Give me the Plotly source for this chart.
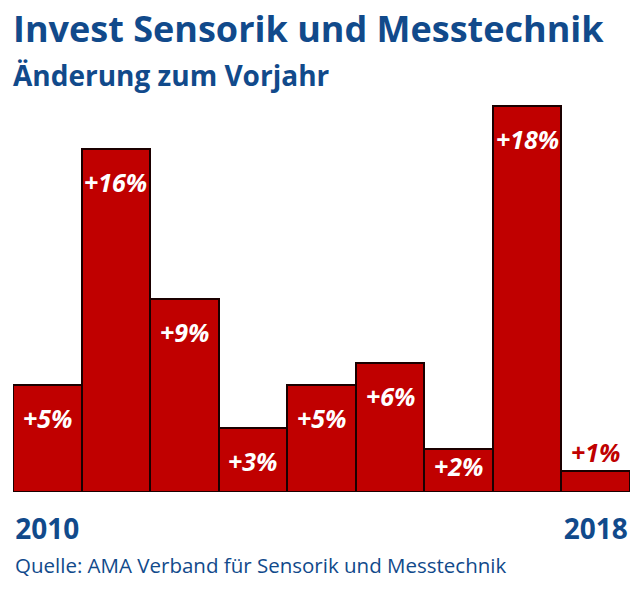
import plotly.graph_objects as go

# Data
years = [2010, 2011, 2012, 2013, 2014, 2015, 2016, 2017, 2018]
change_pct = [5, 16, 9, 3, 5, 6, 2, 18, 1]
labels = ["+5%", "+16%", "+9%", "+3%", "+5%", "+6%", "+2%", "+18%", "+1%"]
tick_years = [2010, 2018]

BLUE = "#114a8b"
RED = "#c00000"
FONT = "Open Sans"

fig = go.Figure()

fig.add_trace(go.Bar(
    x=years,
    y=change_pct,
    width=1.0,
    marker=dict(color=RED, line=dict(color="#1a0000", width=2)),
    hoverinfo="skip",
))

# value labels: white inside the bar, red above the tiny last bar
for yr, val, txt in zip(years, change_pct, labels):
    if val < 2:
        fig.add_annotation(x=yr, y=val, text="<b><i>" + txt + "</i></b>",
                           showarrow=False, yshift=19,
                           font=dict(family=FONT, size=25, color=RED))
    else:
        shift = -33 if val > 2 else -17
        fig.add_annotation(x=yr, y=val, text="<b><i>" + txt + "</i></b>",
                           showarrow=False, yshift=shift,
                           font=dict(family=FONT, size=25, color="white"))

# titles and source
fig.add_annotation(xref="paper", yref="paper", x=-0.003, y=1.0, yshift=76,
                   xanchor="left", yanchor="middle", showarrow=False,
                   text="<b>Invest Sensorik und Messtechnik</b>",
                   font=dict(family=FONT, size=36, color=BLUE))
fig.add_annotation(xref="paper", yref="paper", x=-0.003, y=1.0, yshift=29,
                   xanchor="left", yanchor="middle", showarrow=False,
                   text="<b>Änderung zum Vorjahr</b>",
                   font=dict(family=FONT, size=28, color=BLUE))
fig.add_annotation(xref="paper", yref="paper", x=0.0, y=0.0, yshift=-73,
                   xanchor="left", yanchor="middle", showarrow=False,
                   text="Quelle: AMA Verband für Sensorik und Messtechnik",
                   font=dict(family=FONT, size=20.5, color=BLUE))

fig.update_layout(
    width=639, height=600,
    margin=dict(l=13, r=9, t=104, b=108, autoexpand=False),
    paper_bgcolor="white",
    plot_bgcolor="white",
    showlegend=False,
    bargap=0,
    xaxis=dict(
        range=[2009.5, 2018.5],
        tickvals=tick_years,
        ticktext=[str(y) for y in tick_years],
        tickfont=dict(family=FONT, size=28, color=BLUE, weight="bold"),
        ticklabelstandoff=18,
        automargin=False,
        showgrid=False,
        zeroline=False,
        showline=False,
        ticks="",
    ),
    yaxis=dict(
        range=[0, 18.1],
        visible=False,
        automargin=False,
        showgrid=False,
        zeroline=False,
    ),
)

# drop the default page margin so the figure sits at the window's corner
fig.write_html("out.html", config={"displayModeBar": False},
               post_script="document.body.style.margin='0';")
